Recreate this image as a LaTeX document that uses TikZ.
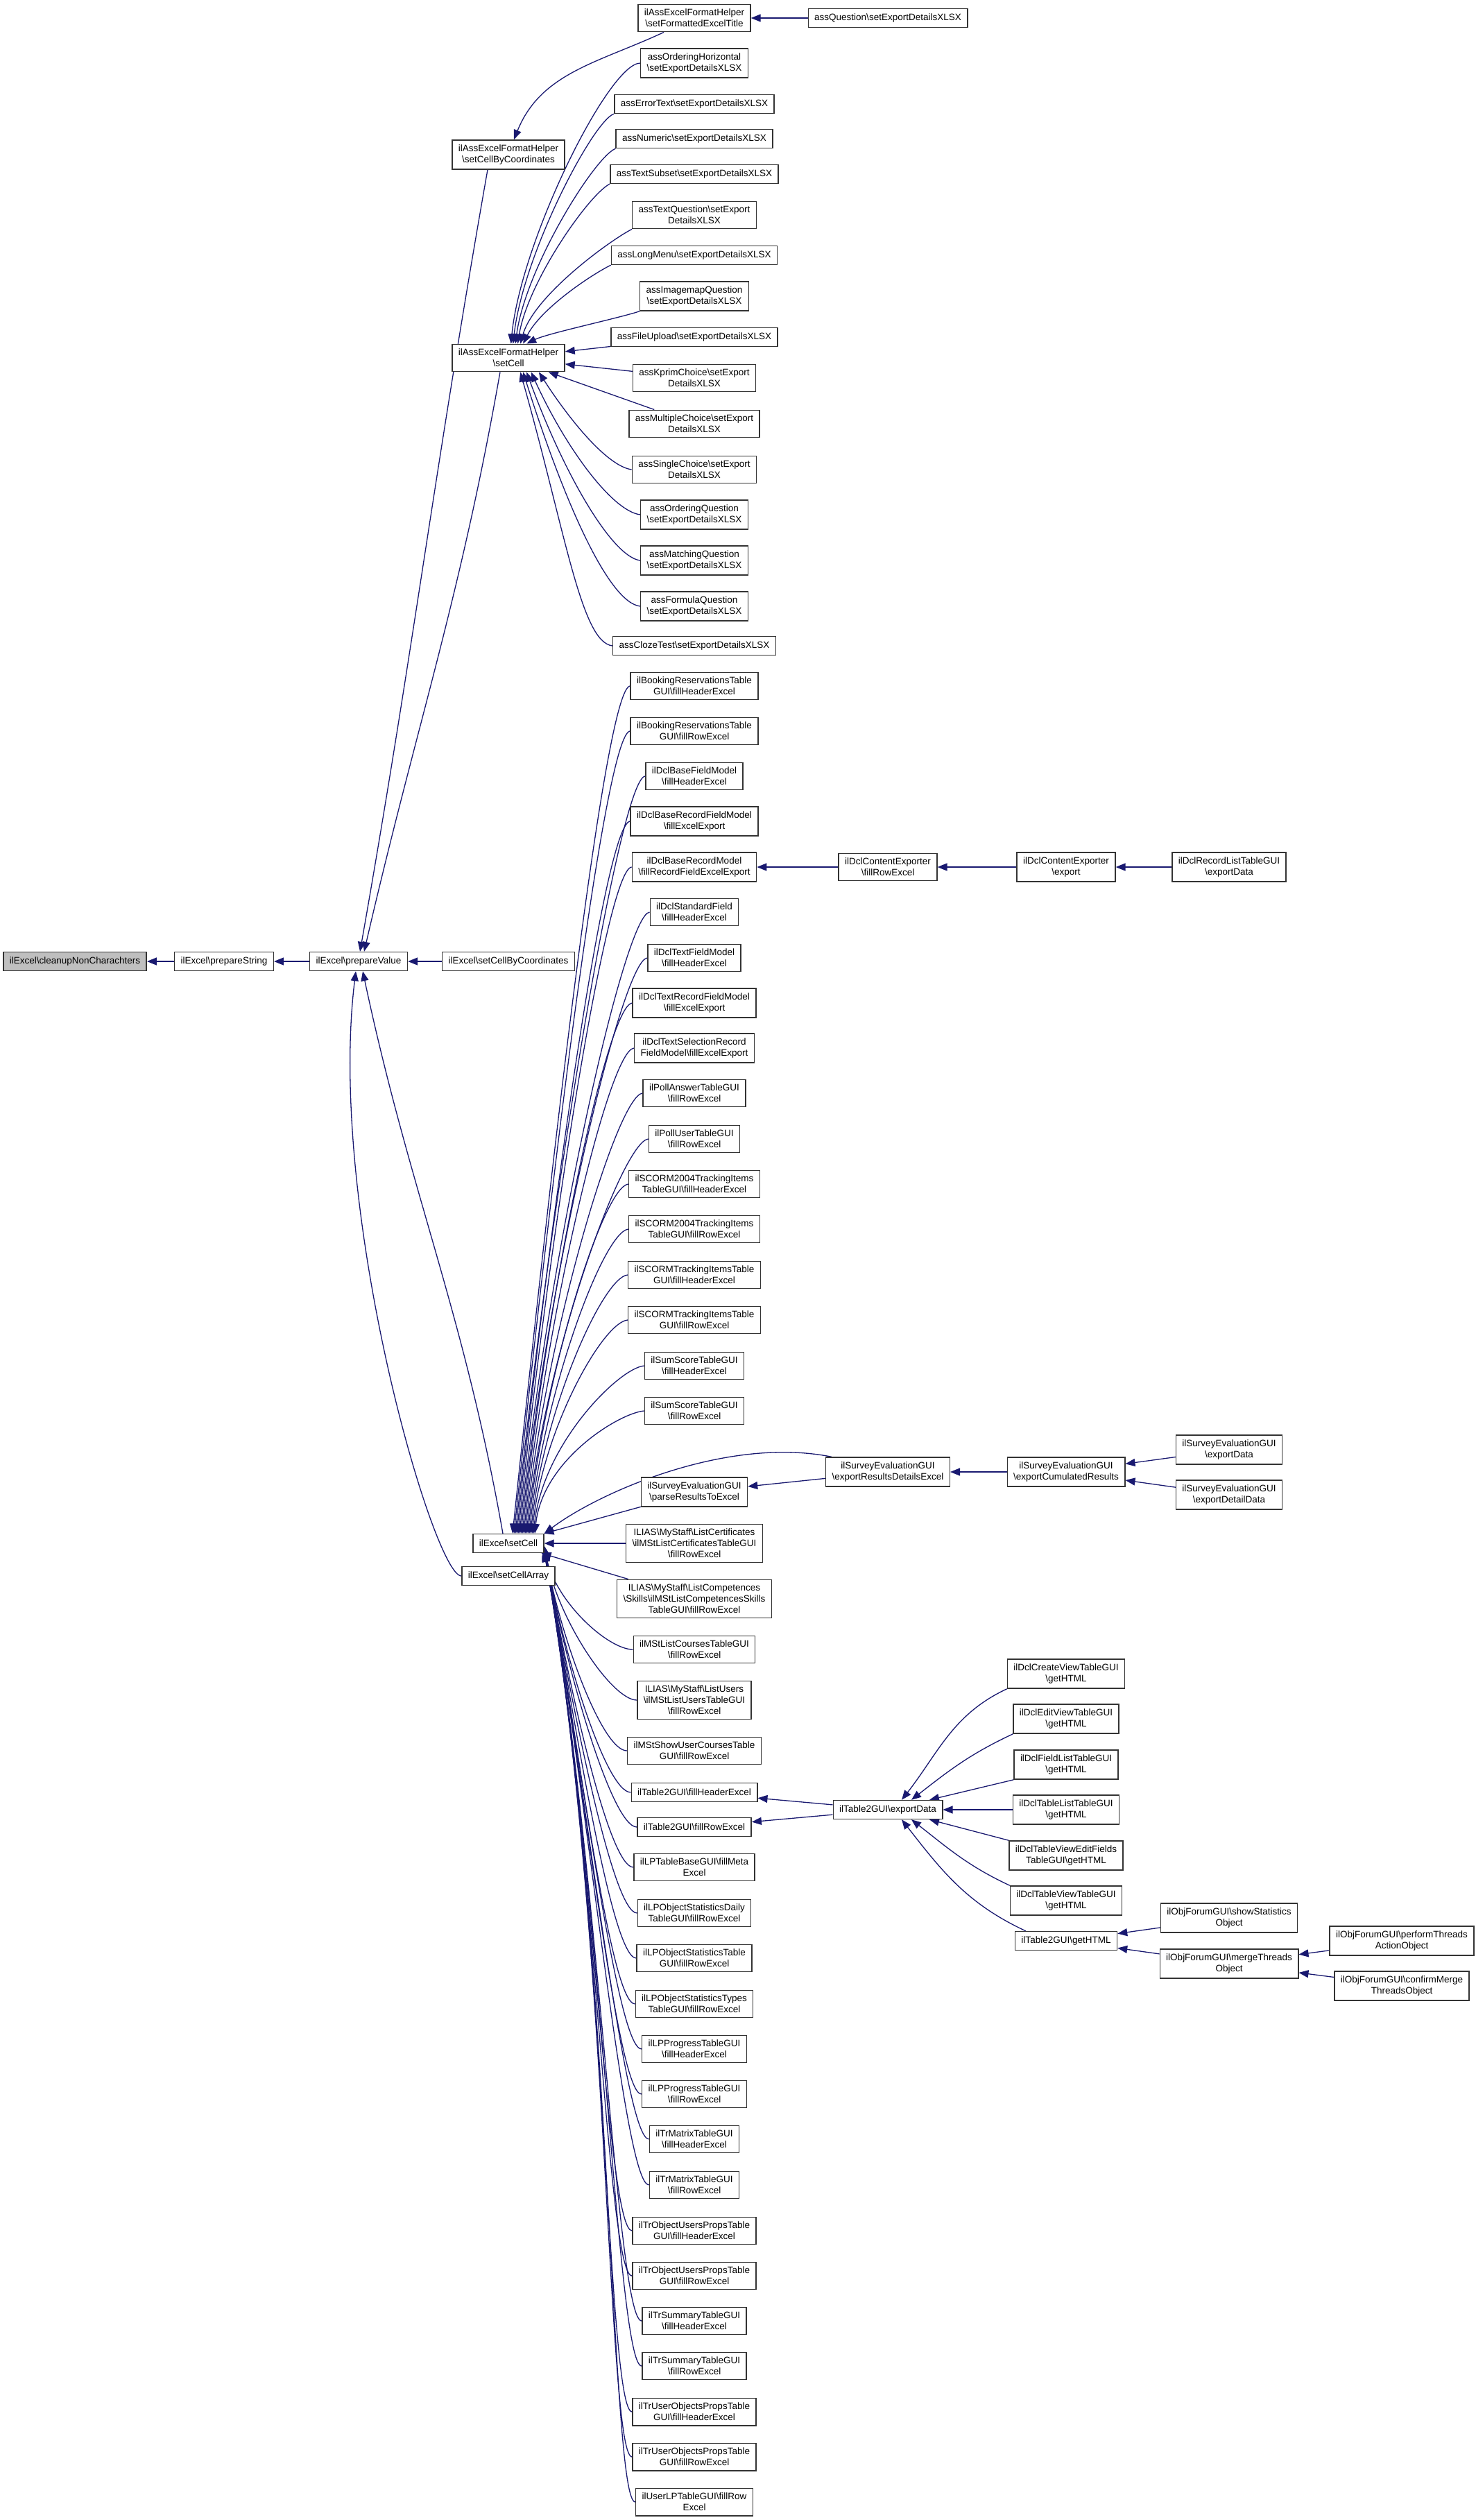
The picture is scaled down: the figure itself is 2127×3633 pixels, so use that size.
\documentclass[tikz,border=0pt]{standalone}
\usepackage{fontspec}
\setmainfont{Liberation Sans}
\usetikzlibrary{arrows.meta}

\definecolor{callblue}{RGB}{25,25,112}
\definecolor{rootgray}{RGB}{191,191,191}
\newcommand{\bsl}{\textbackslash}
\pgfdeclarelayer{background}
\pgfsetlayers{background,main}

\begin{document}
\begin{tikzpicture}[
    x=0.5pt, y=0.5pt,
    font=\fontsize{6.75}{8}\selectfont,
    fn/.style={draw=black!80, line width=0.7pt, fill=white, align=center,
      inner xsep=4.5pt, inner ysep=3.4pt, minimum height=13.5pt},
    rootfn/.style={fn, fill=rootgray},
    call/.style={draw=callblue, line width=0.65pt, -{Triangle[length=7pt,width=5.5pt]}},
    fromAbove/.style={call, out=185, in=84, out distance=18pt, in looseness=1.15},
    fromBelow/.style={call, out=180, in=-80, out distance=18pt, in looseness=1.05}
  ]
\useasboundingbox (0,0) rectangle (2127,-3633);

% --- ilExcel chain ---
\node[rootfn] (cleanup)    at (108,-1386) {ilExcel\bsl cleanupNonCharachters};
\node[fn]     (prepString) at (323,-1386) {ilExcel\bsl prepareString};
\node[fn]     (prepValue)  at (517,-1386) {ilExcel\bsl prepareValue};
\node[fn]     (setByCoord) at (733,-1386) {ilExcel\bsl setCellByCoordinates};
\node[fn]     (ascByCoord) at (733,-223)  {ilAssExcelFormatHelper\\\bsl setCellByCoordinates};
\node[fn]     (ascCell)    at (733,-516)  {ilAssExcelFormatHelper\\\bsl setCell};
\node[fn]     (xlCell)     at (733,-2225) {ilExcel\bsl setCell};
\node[fn]     (xlArray)    at (733,-2272) {ilExcel\bsl setCellArray};

% --- callers of the format helper ---
\node[fn] (fmtTitle)     at (1001,-26)  {ilAssExcelFormatHelper\\\bsl setFormattedExcelTitle};
\node[fn] (assQuestion)  at (1280,-26)  {assQuestion\bsl setExportDetailsXLSX};
\node[fn] (ordHoriz)     at (1001,-91)  {assOrderingHorizontal\\\bsl setExportDetailsXLSX};
\node[fn] (errText)      at (1001,-150) {assErrorText\bsl setExportDetailsXLSX};
\node[fn] (numeric)      at (1001,-200) {assNumeric\bsl setExportDetailsXLSX};
\node[fn] (textSubset)   at (1001,-251) {assTextSubset\bsl setExportDetailsXLSX};
\node[fn] (textQuest)    at (1001,-310) {assTextQuestion\bsl setExport\\DetailsXLSX};
\node[fn] (longMenu)     at (1001,-368) {assLongMenu\bsl setExportDetailsXLSX};
\node[fn] (imagemap)     at (1001,-427) {assImagemapQuestion\\\bsl setExportDetailsXLSX};
\node[fn] (fileUpload)   at (1001,-486) {assFileUpload\bsl setExportDetailsXLSX};
\node[fn] (kprim)        at (1001,-545) {assKprimChoice\bsl setExport\\DetailsXLSX};
\node[fn] (multiChoice)  at (1001,-611) {assMultipleChoice\bsl setExport\\DetailsXLSX};
\node[fn] (singleChoice) at (1001,-677) {assSingleChoice\bsl setExport\\DetailsXLSX};
\node[fn] (ordQuest)     at (1001,-742) {assOrderingQuestion\\\bsl setExportDetailsXLSX};
\node[fn] (matching)     at (1001,-808) {assMatchingQuestion\\\bsl setExportDetailsXLSX};
\node[fn] (formula)      at (1001,-874) {assFormulaQuestion\\\bsl setExportDetailsXLSX};
\node[fn] (cloze)        at (1001,-931) {assClozeTest\bsl setExportDetailsXLSX};

% --- callers of ilExcel\setCell ---
\node[fn] (bookHead)        at (1001,-989)  {ilBookingReservationsTable\\GUI\bsl fillHeaderExcel};
\node[fn] (bookRow)         at (1001,-1054) {ilBookingReservationsTable\\GUI\bsl fillRowExcel};
\node[fn] (dclBaseField)    at (1001,-1119) {ilDclBaseFieldModel\\\bsl fillHeaderExcel};
\node[fn] (dclBaseRecField) at (1001,-1184) {ilDclBaseRecordFieldModel\\\bsl fillExcelExport};
\node[fn] (dclBaseRecModel) at (1001,-1250) {ilDclBaseRecordModel\\\bsl fillRecordFieldExcelExport};
\node[fn] (dclStdField)     at (1001,-1315) {ilDclStandardField\\\bsl fillHeaderExcel};
\node[fn] (dclTextField)    at (1001,-1381) {ilDclTextFieldModel\\\bsl fillHeaderExcel};
\node[fn] (dclTextRec)      at (1001,-1446) {ilDclTextRecordFieldModel\\\bsl fillExcelExport};
\node[fn] (dclTextSel)      at (1001,-1511) {ilDclTextSelectionRecord\\FieldModel\bsl fillExcelExport};
\node[fn] (pollAnswer)      at (1001,-1576) {ilPollAnswerTableGUI\\\bsl fillRowExcel};
\node[fn] (pollUser)        at (1001,-1642) {ilPollUserTableGUI\\\bsl fillRowExcel};
\node[fn] (scorm4Head)      at (1001,-1707) {ilSCORM2004TrackingItems\\TableGUI\bsl fillHeaderExcel};
\node[fn] (scorm4Row)       at (1001,-1772) {ilSCORM2004TrackingItems\\TableGUI\bsl fillRowExcel};
\node[fn] (scormHead)       at (1001,-1838) {ilSCORMTrackingItemsTable\\GUI\bsl fillHeaderExcel};
\node[fn] (scormRow)        at (1001,-1903) {ilSCORMTrackingItemsTable\\GUI\bsl fillRowExcel};
\node[fn] (sumHead)         at (1001,-1969) {ilSumScoreTableGUI\\\bsl fillHeaderExcel};
\node[fn] (sumRow)          at (1001,-2034) {ilSumScoreTableGUI\\\bsl fillRowExcel};
\node[fn] (parseRes)        at (1001,-2151) {ilSurveyEvaluationGUI\\\bsl parseResultsToExcel};
\node[fn] (certs)           at (1001,-2225) {ILIAS\bsl MyStaff\bsl ListCertificates\\\bsl ilMStListCertificatesTableGUI\\\bsl fillRowExcel};
\node[fn] (comps)           at (1001,-2305) {ILIAS\bsl MyStaff\bsl ListCompetences\\\bsl Skills\bsl ilMStListCompetencesSkills\\TableGUI\bsl fillRowExcel};
\node[fn] (courses)         at (1001,-2378) {ilMStListCoursesTableGUI\\\bsl fillRowExcel};
\node[fn] (users)           at (1001,-2451) {ILIAS\bsl MyStaff\bsl ListUsers\\\bsl ilMStListUsersTableGUI\\\bsl fillRowExcel};
\node[fn] (userCourses)     at (1001,-2524) {ilMStShowUserCoursesTable\\GUI\bsl fillRowExcel};
\node[fn] (t2Head)          at (1001,-2584) {ilTable2GUI\bsl fillHeaderExcel};
\node[fn] (t2Row)           at (1001,-2634) {ilTable2GUI\bsl fillRowExcel};
\node[fn] (lpMeta)          at (1001,-2692) {ilLPTableBaseGUI\bsl fillMeta\\Excel};
\node[fn] (lpDaily)         at (1001,-2758) {ilLPObjectStatisticsDaily\\TableGUI\bsl fillRowExcel};
\node[fn] (lpStat)          at (1001,-2823) {ilLPObjectStatisticsTable\\GUI\bsl fillRowExcel};
\node[fn] (lpTypes)         at (1001,-2889) {ilLPObjectStatisticsTypes\\TableGUI\bsl fillRowExcel};
\node[fn] (lpProgHead)      at (1001,-2954) {ilLPProgressTableGUI\\\bsl fillHeaderExcel};
\node[fn] (lpProgRow)       at (1001,-3019) {ilLPProgressTableGUI\\\bsl fillRowExcel};
\node[fn] (trMatHead)       at (1001,-3084) {ilTrMatrixTableGUI\\\bsl fillHeaderExcel};
\node[fn] (trMatRow)        at (1001,-3150) {ilTrMatrixTableGUI\\\bsl fillRowExcel};
\node[fn] (trObjHead)       at (1001,-3216) {ilTrObjectUsersPropsTable\\GUI\bsl fillHeaderExcel};
\node[fn] (trObjRow)        at (1001,-3281) {ilTrObjectUsersPropsTable\\GUI\bsl fillRowExcel};
\node[fn] (trSumHead)       at (1001,-3346) {ilTrSummaryTableGUI\\\bsl fillHeaderExcel};
\node[fn] (trSumRow)        at (1001,-3411) {ilTrSummaryTableGUI\\\bsl fillRowExcel};
\node[fn] (trUserHead)      at (1001,-3477) {ilTrUserObjectsPropsTable\\GUI\bsl fillHeaderExcel};
\node[fn] (trUserRow)       at (1001,-3542) {ilTrUserObjectsPropsTable\\GUI\bsl fillRowExcel};
\node[fn] (userLP)          at (1001,-3607) {ilUserLPTableGUI\bsl fillRow\\Excel};

% --- data collection exporter ---
\node[fn] (dclExpRow)  at (1280,-1250) {ilDclContentExporter\\\bsl fillRowExcel};
\node[fn] (dclExport)  at (1537,-1250) {ilDclContentExporter\\\bsl export};
\node[fn] (dclRecList) at (1772,-1250) {ilDclRecordListTableGUI\\\bsl exportData};

% --- survey evaluation ---
\node[fn] (svDetails)    at (1280,-2122) {ilSurveyEvaluationGUI\\\bsl exportResultsDetailsExcel};
\node[fn] (svCumul)      at (1537,-2122) {ilSurveyEvaluationGUI\\\bsl exportCumulatedResults};
\node[fn] (svData)       at (1772,-2090) {ilSurveyEvaluationGUI\\\bsl exportData};
\node[fn] (svDetailData) at (1772,-2155) {ilSurveyEvaluationGUI\\\bsl exportDetailData};

% --- table export ---
\node[fn] (t2Export)      at (1280,-2609) {ilTable2GUI\bsl exportData};
\node[fn] (dclCreate)     at (1537,-2413) {ilDclCreateViewTableGUI\\\bsl getHTML};
\node[fn] (dclEdit)       at (1537,-2478) {ilDclEditViewTableGUI\\\bsl getHTML};
\node[fn] (dclFieldList)  at (1537,-2544) {ilDclFieldListTableGUI\\\bsl getHTML};
\node[fn] (dclTableList)  at (1537,-2609) {ilDclTableListTableGUI\\\bsl getHTML};
\node[fn] (dclEditFields) at (1537,-2675) {ilDclTableViewEditFields\\TableGUI\bsl getHTML};
\node[fn] (dclTableView)  at (1537,-2740) {ilDclTableViewTableGUI\\\bsl getHTML};
\node[fn] (t2Html)        at (1537,-2798) {ilTable2GUI\bsl getHTML};
\node[fn] (frmStats)      at (1772,-2765) {ilObjForumGUI\bsl showStatistics\\Object};
\node[fn] (frmMerge)      at (1772,-2831) {ilObjForumGUI\bsl mergeThreads\\Object};
\node[fn] (frmPerform)    at (2021,-2798) {ilObjForumGUI\bsl performThreads\\ActionObject};
\node[fn] (frmConfirm)    at (2021,-2863) {ilObjForumGUI\bsl confirmMerge\\ThreadsObject};

\begin{pgfonlayer}{background}
\fill[white] (0,0) rectangle (2127,-3633);

% --- main chain ---
\draw[call] (prepString) -- (cleanup);
\draw[call] (prepValue) -- (prepString);
\draw[call] (setByCoord) -- (prepValue);
\draw[call] ([xshift=-15pt]ascByCoord.south) to[out=-100,in=80] ([xshift=1pt]prepValue.north);
\draw[call] ([xshift=-6pt]ascCell.south) to[out=-100,in=77] ([xshift=4pt]prepValue.north);
\draw[call] ([xshift=-4pt]xlCell.north) to[out=100,in=-78] ([xshift=3pt]prepValue.south);
\draw[call] (xlArray.west) to[out=180,in=-97,out distance=20pt] ([xshift=-2pt]prepValue.south);

% --- format helper ---
\draw[call] (assQuestion) -- (fmtTitle);
\draw[call] (fmtTitle.205) to[out=205,in=68] (ascByCoord.70);
\draw[call] (ordHoriz.west) .. controls +(-45,0) and +(15,150) .. (ascCell.80);
\draw[call] (errText.south west) .. controls +(-30,-10) and +(15,130) .. (ascCell.72);
\draw[call] (numeric.south west) .. controls +(-30,-12) and +(15,110) .. (ascCell.64);
\draw[call] (textSubset.south west) .. controls +(-30,-15) and +(15,90) .. (ascCell.57);
\draw[call] (textQuest.south west) .. controls +(-30,-15) and +(20,70) .. (ascCell.50);
\draw[call] (longMenu.south west) .. controls +(-30,-15) and +(25,50) .. (ascCell.44);
\draw[call] (imagemap.south west) .. controls +(-30,-10) and +(30,15) .. (ascCell.38);
\draw[call] (fileUpload) -- (ascCell);
\draw[call] (kprim) -- (ascCell);
\draw[call] (multiChoice) -- (ascCell);
\draw[call] (singleChoice.west) .. controls +(-35,5) and +(45,-70) .. (ascCell.-25);
\draw[call] (ordQuest.west) .. controls +(-40,5) and +(50,-110) .. (ascCell.-32);
\draw[call] (matching.west) .. controls +(-40,5) and +(55,-150) .. (ascCell.-38);
\draw[call] (formula.west) .. controls +(-45,5) and +(60,-190) .. (ascCell.-44);
\draw[call] (cloze.west) .. controls +(-45,5) and +(65,-230) .. (ascCell.-50);

% --- ilExcel\setCell, callers above ---
\draw[fromAbove] (bookHead.west) to ([xshift=3pt]xlCell.north);
\draw[fromAbove] (bookRow.west) to ([xshift=4pt]xlCell.north);
\draw[fromAbove] (dclBaseField.west) to ([xshift=5pt]xlCell.north);
\draw[fromAbove] (dclBaseRecField.west) to ([xshift=6pt]xlCell.north);
\draw[fromAbove] (dclBaseRecModel.west) to ([xshift=7pt]xlCell.north);
\draw[fromAbove] (dclStdField.west) to ([xshift=8pt]xlCell.north);
\draw[fromAbove] (dclTextField.west) to ([xshift=9pt]xlCell.north);
\draw[fromAbove] (dclTextRec.west) to ([xshift=10pt]xlCell.north);
\draw[fromAbove] (dclTextSel.west) to ([xshift=11pt]xlCell.north);
\draw[fromAbove] (pollAnswer.west) to ([xshift=12pt]xlCell.north);
\draw[fromAbove] (pollUser.west) to ([xshift=13pt]xlCell.north);
\draw[fromAbove] (scorm4Head.west) to ([xshift=14pt]xlCell.north);
\draw[fromAbove] (scorm4Row.west) to ([xshift=15pt]xlCell.north);
\draw[fromAbove] (scormHead.west) to ([xshift=16pt]xlCell.north);
\draw[fromAbove] (scormRow.west) to ([xshift=17pt]xlCell.north);
\draw[fromAbove] (sumHead.west) to ([xshift=18pt]xlCell.north);
\draw[fromAbove] (sumRow.west) to ([xshift=19pt]xlCell.north);
\draw[call] (svDetails.165) .. controls +(-150,30) and +(80,60) .. (xlCell.north east);
\draw[call] (parseRes) -- (xlCell);
\draw[call] (certs) -- (xlCell);
\draw[call] (comps) -- (xlCell);

% --- ilExcel\setCell, callers below ---
\draw[fromBelow] (courses.west) to (xlCell.-4);
\draw[fromBelow] (users.west) to (xlCell.-5);
\draw[fromBelow] (userCourses.west) to (xlCell.-6);
\draw[fromBelow] (t2Head.west) to (xlCell.-6);
\draw[fromBelow] (t2Row.west) to (xlCell.-7);
\draw[fromBelow] (lpMeta.west) to (xlCell.-7);
\draw[fromBelow] (lpDaily.west) to (xlCell.-8);
\draw[fromBelow] (lpStat.west) to (xlCell.-8);
\draw[fromBelow] (lpTypes.west) to (xlCell.-9);
\draw[fromBelow] (lpProgHead.west) to (xlCell.-9);
\draw[fromBelow] (lpProgRow.west) to (xlCell.-10);
\draw[fromBelow] (trMatHead.west) to (xlCell.-10);
\draw[fromBelow] (trMatRow.west) to (xlCell.-11);
\draw[fromBelow] (trObjHead.west) to (xlCell.-11);
\draw[fromBelow] (trObjRow.west) to (xlCell.-12);
\draw[fromBelow] (trSumHead.west) to (xlCell.-12);
\draw[fromBelow] (trSumRow.west) to (xlCell.-13);
\draw[fromBelow] (trUserHead.west) to (xlCell.-13);
\draw[fromBelow] (trUserRow.west) to (xlCell.-14);
\draw[fromBelow] (userLP.west) to (xlCell.-14);

% --- data collection exporter ---
\draw[call] (dclExpRow) -- (dclBaseRecModel);
\draw[call] (dclExport) -- (dclExpRow);
\draw[call] (dclRecList) -- (dclExport);

% --- survey evaluation ---
\draw[call] (svDetails) -- (parseRes);
\draw[call] (svCumul) -- (svDetails);
\draw[call] (svData) -- (svCumul);
\draw[call] (svDetailData) -- (svCumul);

% --- table export ---
\draw[call] (t2Export) -- (t2Head);
\draw[call] (t2Export) -- (t2Row);
\draw[call] (dclCreate.south west) to[out=205,in=52] ([xshift=10pt]t2Export.north);
\draw[call] (dclEdit.south west) to[out=205,in=38] ([xshift=17pt]t2Export.north);
\draw[call] (dclFieldList.south west) -- ([xshift=30pt]t2Export.north);
\draw[call] (dclTableList) -- (t2Export);
\draw[call] (dclEditFields.north west) -- ([xshift=30pt]t2Export.south);
\draw[call] (dclTableView.north west) to[out=155,in=-38] ([xshift=17pt]t2Export.south);
\draw[call] ([xshift=8pt]t2Html.north west) to[out=155,in=-52] ([xshift=10pt]t2Export.south);
\draw[call] (frmStats) -- (t2Html);
\draw[call] (frmMerge) -- (t2Html);
\draw[call] (frmPerform) -- (frmMerge);
\draw[call] (frmConfirm) -- (frmMerge);
\end{pgfonlayer}

\end{tikzpicture}
\end{document}
